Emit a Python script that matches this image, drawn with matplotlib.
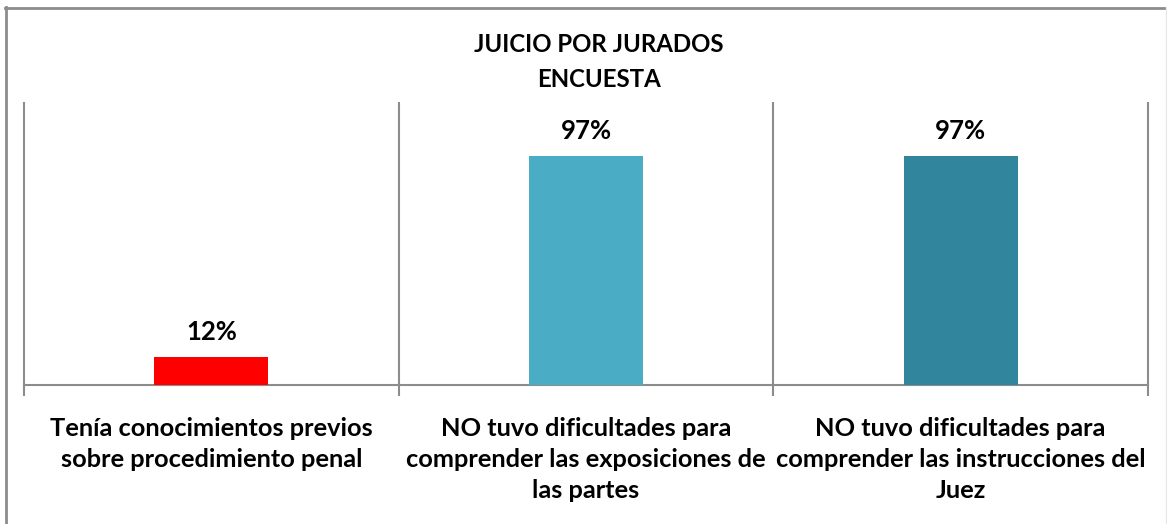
import numpy as np
import matplotlib
matplotlib.use('Agg')
import matplotlib.pyplot as plt
from matplotlib.lines import Line2D

# survey answers, share of jurors
categories = ['Tenía conocimientos previos\nsobre procedimiento penal',
              'NO tuvo dificultades para\ncomprender las exposiciones de\nlas partes',
              'NO tuvo dificultades para\ncomprender las instrucciones del\nJuez']
values = [0.12, 0.97, 0.97]
value_labels = ['12%', '97%', '97%']
colors = ['#FF0000', '#4BACC6', '#31859C']
title = 'JUICIO POR JURADOS\nENCUESTA'

plt.rcParams['font.family'] = ['Lato', 'DejaVu Sans']
grey = '#8c8c8c'

fig = plt.figure(figsize=(11.67, 5.24), dpi=100)
ax = fig.add_axes([24 / 1167, 139 / 524, 1124 / 1167, 283 / 524])

x = np.arange(len(values))
ax.bar(x, values, width=0.305, color=colors, zorder=3)
ax.set_xlim(-0.5, len(values) - 0.5)
ax.set_ylim(0, 1.2)

for s in ['top', 'right', 'left']:
  ax.spines[s].set_visible(False)
ax.spines['bottom'].set_color(grey)
ax.spines['bottom'].set_linewidth(1.5)

# separators between categories, running past the baseline as ticks
bounds = np.arange(len(values) + 1) - 0.5
ax.vlines(bounds, 0, 1.2, color=grey, linewidth=1.5, clip_on=False)
ax.set_xticks(bounds)
ax.set_xticklabels([])
ax.tick_params(axis='x', length=8, width=1.5, color=grey, direction='out')
ax.set_yticks([])

for i, (v, lab) in enumerate(zip(values, value_labels)):
  ax.annotate(lab, (i, v), xytext=(0, 18), textcoords='offset points',
              ha='center', va='center', fontsize=18.5, fontweight='bold')

for i, c in enumerate(categories):
  ax.annotate(c, (i, 0), xycoords=('data', 'axes fraction'),
              xytext=(0, -23), textcoords='offset points',
              ha='center', va='top', fontsize=18.3, fontweight='bold',
              linespacing=1.42)

fig.text(599 / 1167, 1 - 62 / 524, title, ha='center', va='center',
         fontsize=17.3, fontweight='bold', linespacing=1.65)

# outer frame (top and left edges only, like the source)
fig.add_artist(Line2D([5 / 1167, 1], [1 - 7.5 / 524] * 2, color=grey, linewidth=2,
                      transform=fig.transFigure))
fig.add_artist(Line2D([5.5 / 1167] * 2, [0, 1 - 7 / 524], color=grey, linewidth=2,
                      transform=fig.transFigure))
fig.add_artist(Line2D([1165.5 / 1167] * 2, [0, 1 - 7 / 524], color='#e6e6e6',
                      linewidth=1, transform=fig.transFigure))

fig.savefig('out.png', dpi=100)
